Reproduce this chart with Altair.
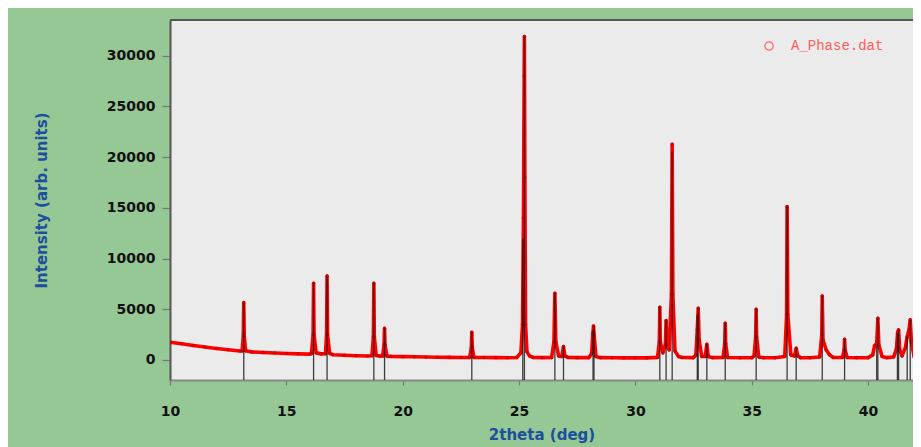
import altair as alt
import pandas as pd

obs_t = [10.0, 10.5, 11.0, 11.5, 12.0, 12.5, 13.0,
         13.10, 13.15, 13.17, 13.19, 13.25,
         13.5, 14.0, 14.5, 15.0, 15.5, 16.0,
         16.08, 16.15, 16.17, 16.19, 16.28,
         16.5, 16.68, 16.73, 16.75, 16.77, 16.86,
         17.0, 17.5, 18.0, 18.5, 18.68, 18.74, 18.76, 18.78, 18.86, 19.0,
         19.14, 19.20, 19.22, 19.24, 19.32,
         19.5, 20.0, 20.5, 21.0, 21.5, 22.0, 22.5, 22.88, 22.95, 22.97, 22.99, 23.06,
         23.5, 24.0, 24.5, 24.9, 25.08, 25.15, 25.19, 25.22, 25.23, 25.25, 25.28, 25.34, 25.45, 25.6,
         26.0, 26.4, 26.50, 26.54, 26.58, 26.70, 26.84, 26.91, 26.97, 27.1,
         27.5, 28.0, 28.12, 28.17, 28.2, 28.23, 28.3, 28.5,
         29.0, 29.5, 30.0, 30.5, 30.95, 31.03, 31.05, 31.07, 31.18, 31.29, 31.32, 31.35, 31.45,
         31.55, 31.58, 31.61, 31.70, 31.85, 32.0,
         32.5, 32.6, 32.66, 32.70, 32.74, 32.85, 33.0, 33.07, 33.13, 33.3,
         33.77, 33.84, 33.86, 33.88, 33.96,
         34.5, 35.0, 35.1, 35.17, 35.19, 35.21, 35.3, 35.5,
         36.0, 36.42, 36.50, 36.52, 36.55, 36.68, 36.84, 36.91, 36.98, 37.1,
         37.5, 37.92, 38.01, 38.03, 38.06, 38.2, 38.35, 38.5,
         38.9, 38.97, 38.99, 39.01, 39.1,
         39.5, 40.0, 40.2, 40.28, 40.37, 40.42, 40.46, 40.6, 40.8,
         41.1, 41.22, 41.27, 41.31, 41.36, 41.46, 41.6, 41.68, 41.76, 41.81, 41.86, 41.98, 42.1, 42.3]
obs_i = [1750, 1600, 1430, 1280, 1130, 1000, 880,
         900, 2400, 5650, 2400, 900,
         800, 740, 680, 640, 600, 580,
         620, 2500, 7570, 2500, 700,
         600, 620, 2500, 8280, 2500, 650,
         520, 460, 420, 390, 420, 2300, 7560, 2300, 450, 380,
         400, 1500, 3120, 1500, 380,
         350, 330, 310, 290, 270, 260, 250, 250, 1200, 2730, 1200, 250,
         240, 230, 220, 240, 700, 3500, 14000, 28000, 31900, 18000, 3500, 800, 400, 250,
         230, 240, 1800, 6570, 1800, 400, 350, 1320, 400, 250,
         230, 230, 600, 2600, 3350, 2400, 350, 230,
         220, 210, 210, 210, 260, 1800, 5200, 1800, 700, 1500, 3880, 1500, 1000,
         6500, 21270, 6500, 900, 350, 250,
         230, 500, 3000, 5100, 2000, 350, 350, 1550, 350, 230,
         250, 1600, 3620, 1600, 250,
         220, 220, 400, 2300, 5000, 2300, 300, 220,
         220, 350, 4500, 15120, 4500, 500, 400, 1150, 400, 230,
         220, 300, 2500, 6310, 2000, 990, 500, 250,
         260, 1000, 2040, 1000, 250,
         220, 230, 500, 1410, 1600, 4110, 1500, 350, 230,
         300, 1100, 2700, 2960, 1000, 400, 1200, 2300, 3000, 3950, 1800, 300, 220, 200]

# Calculated reflections (sticks)
stick_t = [13.17, 16.17, 16.75, 18.76, 19.22, 22.97, 25.16, 25.23, 26.54, 26.91,
           28.18, 28.22, 31.05, 31.32, 31.58, 32.66, 32.70, 33.07, 33.86, 35.19,
           36.52, 36.91, 38.03, 38.99, 40.37, 40.42, 41.26, 41.31, 41.68, 41.81]
stick_i = [5650, 7570, 8280, 7560, 3120, 2730, 12000, 31900, 6570, 1320,
           2960, 3350, 5200, 3880, 20550, 4460, 5100, 1550, 3620, 5000,
           15120, 1150, 6310, 2040, 1400, 4110, 2630, 2960, 2300, 3950]

x_ticks = [10, 15, 20, 25, 30, 35, 40]
y_ticks = [0, 5000, 10000, 15000, 20000, 25000, 30000]
x_domain = [10, 41.93]
y_domain = [-1975, 33520]
legend_name = ["A_Phase.dat"]

obs = pd.DataFrame({"t": obs_t, "i": obs_i})
sticks = pd.DataFrame({"t": stick_t, "i": stick_i, "base": [y_domain[0]] * len(stick_t)})
legend_df = pd.DataFrame({"t": [obs_t[0]], "i": [obs_i[0]], "series": legend_name})

W, H = 743, 360
label_font = "DejaVu Sans"
blue = "#1c4f9c"

x_enc = alt.X("t:Q", scale=alt.Scale(domain=x_domain, nice=False, zero=False),
              axis=alt.Axis(values=x_ticks, format="d", grid=False, tickSize=5,
                            tickColor="#777777", tickWidth=1.2,
                            domainColor="#888888", domainWidth=2,
                            labelFont=label_font, labelFontWeight="bold", labelFontSize=14,
                            labelColor="#111111", labelPadding=19, labelFlush=False,
                            title="2theta (deg)", titleFont=label_font, titleFontWeight="bold",
                            titleFontSize=15, titleColor=blue, titleY=54,
                            titleBaseline="middle"))
y_enc = alt.Y("i:Q", scale=alt.Scale(domain=y_domain, nice=False, zero=False),
              axis=alt.Axis(values=y_ticks, format="d", grid=False, tickSize=8,
                            tickColor="#777777", tickWidth=1.2,
                            domainColor="#555555", domainWidth=2,
                            labelFont=label_font, labelFontWeight="bold", labelFontSize=14,
                            labelColor="#111111", labelPadding=7, labelFlush=False,
                            title="Intensity (arb. units)", titleFont=label_font,
                            titleFontWeight="bold", titleFontSize=15, titleColor=blue,
                            titleX=-129, titleY=H / 2, titleAngle=-90,
                            titleAlign="center", titleBaseline="middle"))

line = alt.Chart(obs).mark_line(color="#ff0000", strokeWidth=3.6, strokeJoin="round",
                                clip=True).encode(x=x_enc, y=y_enc)

pts = alt.Chart(obs).mark_point(shape="circle", filled=False, size=7, strokeWidth=0.8,
                                color="#b00000", opacity=0.8, clip=True).encode(
    x="t:Q", y="i:Q")

legend_layer = alt.Chart(legend_df).mark_point(shape="circle", filled=False, size=0).encode(
    x="t:Q", y="i:Q",
    color=alt.Color("series:N",
                    scale=alt.Scale(domain=legend_name, range=["#ff6a6a"]),
                    legend=alt.Legend(orient="none", legendX=592, legendY=19, title=None,
                                      padding=0, labelFont="Liberation Mono",
                                      labelFontSize=14, labelColor="#ff5c5c",
                                      labelOffset=15, symbolType="circle", symbolSize=70,
                                      symbolStrokeWidth=1.2, symbolOpacity=1,
                                      symbolFillColor="transparent")))

stick = alt.Chart(sticks).mark_rule(color="#111111", strokeWidth=1.3, opacity=0.8,
                                    clip=True).encode(
    x="t:Q", y="i:Q", y2="base:Q")

top_border = alt.Chart(obs).mark_rule(color="#555555", strokeWidth=2).encode(
    x=alt.value(0), x2=alt.value(W), y=alt.value(0))

chart = alt.layer(line, pts, stick, legend_layer, top_border).properties(
    width=W, height=H,
    padding={"left": 162, "top": 12, "right": 0, "bottom": 67},
    autosize=alt.AutoSizeParams(type="none"),
).configure(background="#96c896").configure_view(fill="#ebebeb", stroke=None)

chart.save("out.html", embed_options={"renderer": "svg", "actions": False})
